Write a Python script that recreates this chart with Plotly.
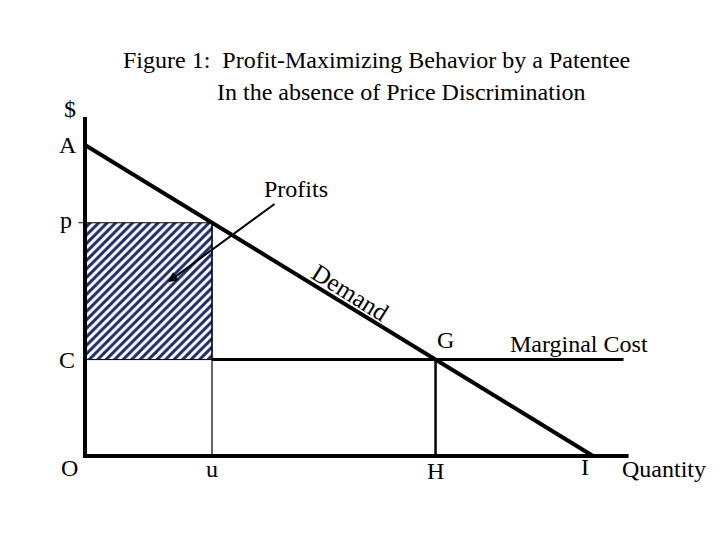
import plotly.graph_objects as go

# diagram values (price on y, quantity on x)
price_A = 10.0      # demand intercept
price_p = 7.5       # monopoly price
price_C = 3.1       # marginal cost
qty_u = 2.5         # monopoly output
qty_H = 6.9         # competitive output
qty_I = 10.0        # demand hits quantity axis
axis_top = 10.9
axis_right = 10.7
mc_right = 10.6

demand_q = [0, qty_I]
demand_p = [price_A, 0]

FONT = "Liberation Serif, Times New Roman, serif"
BLACK = "black"
NAVY = "#1b2a6b"
FS = 24

fig = go.Figure()

# profit rectangle, hatched
fig.add_trace(go.Scatter(
    x=[0, qty_u, qty_u, 0, 0],
    y=[price_C, price_C, price_p, price_p, price_C],
    mode="lines", fill="toself",
    line=dict(color=BLACK, width=1),
    fillcolor="white",
    fillpattern=dict(shape="/", fgcolor=NAVY, bgcolor="white", fgopacity=1,
                     size=6, solidity=0.5),
    hoverinfo="skip"))

# u vertical (thin)
fig.add_trace(go.Scatter(x=[qty_u, qty_u], y=[0, price_p], mode="lines",
                         line=dict(color=BLACK, width=1.2), hoverinfo="skip"))
# p tick left of the axis
fig.add_trace(go.Scatter(x=[-0.13, 0], y=[price_p, price_p], mode="lines",
                         line=dict(color=BLACK, width=1), hoverinfo="skip"))
# H vertical
fig.add_trace(go.Scatter(x=[qty_H, qty_H], y=[0, price_C], mode="lines",
                         line=dict(color=BLACK, width=2.5), hoverinfo="skip"))
# marginal cost
fig.add_trace(go.Scatter(x=[qty_u, mc_right], y=[price_C, price_C], mode="lines",
                         line=dict(color=BLACK, width=3), hoverinfo="skip"))
# demand
fig.add_trace(go.Scatter(x=demand_q, y=demand_p, mode="lines",
                         line=dict(color=BLACK, width=4), hoverinfo="skip"))
# axes
fig.add_trace(go.Scatter(x=[0, 0, axis_right], y=[axis_top, 0, 0], mode="lines",
                         line=dict(color=BLACK, width=4), hoverinfo="skip"))

def label(txt, x, y, size=FS, **kw):
    fig.add_annotation(x=x, y=y, text=txt, showarrow=False,
                       font=dict(family=FONT, size=size, color=BLACK), **kw)

label("$", 0, axis_top, xshift=-15, yshift=8)
label("A", 0, price_A, xshift=-17)
label("p", 0, price_p, xshift=-19, yshift=3)
label("C", 0, price_C, xshift=-18)
label("O", 0, 0, xshift=-16, yshift=-12)
label("u", qty_u, 0, yshift=-13)
label("H", qty_H, 0, yshift=-15)
label("I", qty_I, 0, xshift=-8, yshift=-11)
label("Quantity", axis_right, 0, xanchor="left", xshift=-9, yshift=-13)
label("G", qty_H, price_C, xshift=10, yshift=20)
label("Marginal Cost", mc_right, price_C, xanchor="right", xshift=26, yshift=16)
label("Profits", 4.15, 8.6)
label("Demand", 5.22, 5.27, size=25, textangle=32)

# arrow into the profit area
fig.add_annotation(x=1.63, y=5.59, ax=3.76, ay=8.14, xref="x", yref="y",
                   axref="x", ayref="y", text="", showarrow=True,
                   arrowhead=2, arrowsize=1, arrowwidth=2, arrowcolor=BLACK)

# title
fig.add_annotation(text="Figure 1:  Profit-Maximizing Behavior by a Patentee",
                   x=0.5125, y=0.904, xref="paper", yref="paper", showarrow=False,
                   xanchor="center", yanchor="middle",
                   font=dict(family=FONT, size=FS, color=BLACK))
fig.add_annotation(text="In the absence of Price Discrimination",
                   x=0.547, y=0.844, xref="paper", yref="paper", showarrow=False,
                   xanchor="center", yanchor="middle",
                   font=dict(family=FONT, size=FS, color=BLACK))

# ranges chosen so the page's 8px body offset lands O at (85, 456)
fig.update_xaxes(range=[-1.516, 12.657], visible=False, fixedrange=True)
fig.update_yaxes(range=[-2.958, 14.405], visible=False, fixedrange=True)
fig.update_layout(width=720, height=540, margin=dict(l=0, r=0, t=0, b=0),
                  plot_bgcolor="white", paper_bgcolor="white", showlegend=False)

fig.write_html("out.html")
